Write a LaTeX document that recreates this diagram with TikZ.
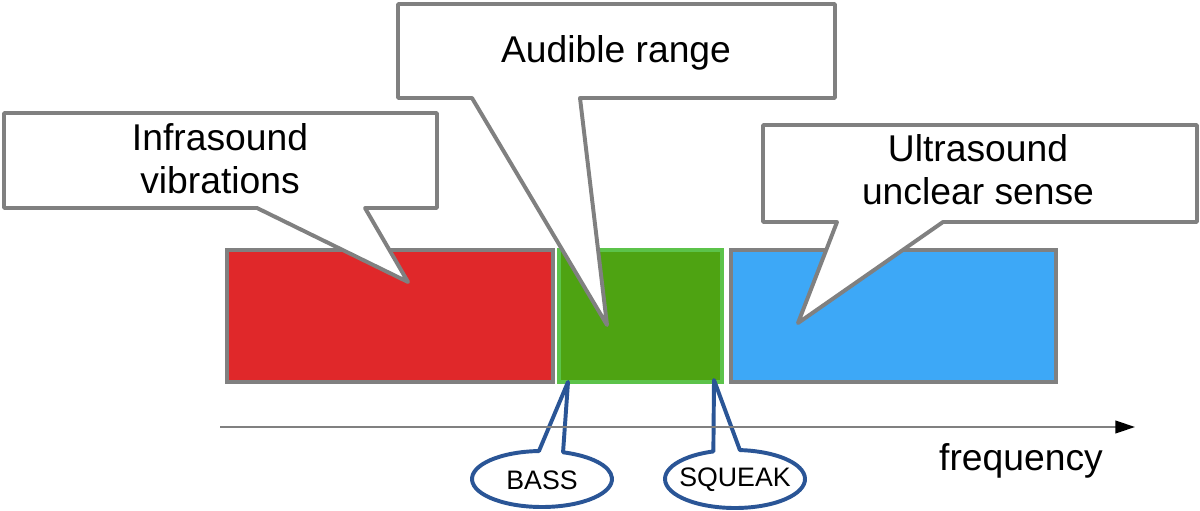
\documentclass[tikz,border=0pt]{standalone}
\usepackage{fontspec}
\setmainfont{Liberation Sans}
\usetikzlibrary{arrows.meta,calc}
\definecolor{infrared}{HTML}{E0282A}
\definecolor{audiblegreen}{HTML}{4EA312}
\definecolor{audibleedge}{HTML}{5CC34A}
\definecolor{ultrablue}{HTML}{3DA8F7}
\definecolor{edgegray}{HTML}{808080}
\definecolor{tagblue}{HTML}{2A5596}
\tikzset{
  band/.style={draw=edgegray, line width=2.8pt},
  bubble/.style={draw=edgegray, fill=white, line width=2.8pt, line join=round},
  tagline/.style={draw=tagblue, fill=white, line width=2.8pt, line join=round},
  axisline/.style={draw=edgegray, line width=1.4pt, -{Triangle[length=14pt,width=9pt,color=black]}},
  bigtext/.style={font=\fontsize{26.5}{30.5}\selectfont, align=center, inner sep=0pt},
  smalltext/.style={font=\fontsize{19}{22}\selectfont, inner sep=0pt}
}
\begin{document}
\begin{tikzpicture}[x=0.025cm, y=-0.025cm]
        \useasboundingbox (0,0) rectangle (1200,511);
        % Bands
        \draw[band, fill=infrared] (227,250) rectangle (553,382);
        \draw[band, draw=audibleedge, fill=audiblegreen] (559,250) rectangle (722,382);
        \draw[band, fill=ultrablue] (731,250) rectangle (1056,382);

        % Callouts
        \draw[bubble] (4,113) -- (437,113) -- (437,208) -- (365,208) -- (408,282) -- (257,208) -- (4,208) -- cycle;
        \draw[bubble] (398,4) -- (835,4) -- (835,98) -- (580,98) -- (607,325) -- (472,98) -- (398,98) -- cycle;
        \draw[bubble] (763,125) -- (1197,125) -- (1197,222) -- (943,222) -- (798,323) -- (837,222) -- (763,222) -- cycle;
        \draw[tagline] (542,479) ++(-72.5:70 and 28) -- (568,382) -- ($(542,479)+(-92.5:70 and 28)$)
            arc[start angle=-92.5, end angle=-432.5, x radius=70, y radius=28] -- cycle;
        \draw[tagline] (735,479) ++(-86:70 and 29) -- (714,380) -- ($(735,479)+(-108:70 and 29)$)
            arc[start angle=-108, end angle=-446, x radius=70, y radius=29] -- cycle;

        % Axis
        \coordinate (axstart) at (220,427);
        \coordinate (axend) at (1135,427);
        \draw[axisline] (axstart) -- (axend);

        % Labels
        \node[bigtext] (infratext) at (220,159) {Infrasound\\vibrations};
        \node[bigtext, anchor=base] (audibletext) at (616,63) {Audible range};
        \node[bigtext] (ultratext) at (978,170) {Ultrasound\\unclear sense};
        \node[bigtext, anchor=base] (freqtext) at (1021,470) {frequency};
        \node[smalltext] (basstext) at (542,480) {BASS};
        \node[smalltext] (squeaktext) at (735,480) {SQUEAK};
    \end{tikzpicture}
\end{document}
